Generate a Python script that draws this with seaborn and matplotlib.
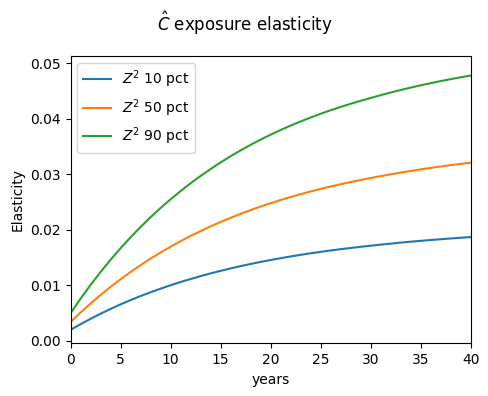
import matplotlib
matplotlib.use("Agg")
import matplotlib.pyplot as plt
import seaborn as sns

# values, one per year
years = list(range(0, 41))

z2_10 = [0.00200, 0.00302, 0.00399, 0.00491, 0.00577, 0.00659, 0.00736, 0.00809, 0.00877, 0.00942,
         0.01004, 0.01062, 0.01116, 0.01168, 0.01217, 0.01263, 0.01307, 0.01348, 0.01387, 0.01424,
         0.01458, 0.01491, 0.01522, 0.01551, 0.01579, 0.01605, 0.01630, 0.01653, 0.01675, 0.01696,
         0.01715, 0.01735, 0.01753, 0.01771, 0.01788, 0.01803, 0.01818, 0.01832, 0.01846, 0.01859,
         0.01871]
z2_50 = [0.00340, 0.00512, 0.00674, 0.00828, 0.00974, 0.01112, 0.01242, 0.01366, 0.01483, 0.01593,
         0.01698, 0.01797, 0.01891, 0.01980, 0.02064, 0.02143, 0.02218, 0.02290, 0.02357, 0.02421,
         0.02481, 0.02539, 0.02593, 0.02644, 0.02693, 0.02738, 0.02782, 0.02823, 0.02862, 0.02899,
         0.02934, 0.02968, 0.03001, 0.03032, 0.03061, 0.03090, 0.03117, 0.03141, 0.03166, 0.03188,
         0.03210]
z2_90 = [0.00500, 0.00761, 0.01008, 0.01241, 0.01462, 0.01670, 0.01867, 0.02053, 0.02228, 0.02395,
         0.02551, 0.02699, 0.02840, 0.02972, 0.03097, 0.03215, 0.03327, 0.03432, 0.03532, 0.03626,
         0.03715, 0.03799, 0.03878, 0.03953, 0.04024, 0.04091, 0.04155, 0.04214, 0.04271, 0.04325,
         0.04375, 0.04426, 0.04474, 0.04519, 0.04562, 0.04604, 0.04642, 0.04679, 0.04714, 0.04748,
         0.04779]

series = [("$Z^2$ 10 pct", z2_10), ("$Z^2$ 50 pct", z2_50), ("$Z^2$ 90 pct", z2_90)]
colors = sns.color_palette("tab10", 3)

plt.rcParams["font.family"] = ["DejaVu Sans"]

fig = plt.figure(figsize=(4.89, 3.96), dpi=100)
ax = fig.add_axes([0.1442, 0.1326, 0.8190, 0.7260])

for (label, vals), c in zip(series, colors):
    sns.lineplot(x=years, y=vals, label=label, color=c, linewidth=1.5, ax=ax)

ax.set_xlim(0, 40)
ax.set_ylim(-0.00045, 0.0513)
ax.set_xticks(range(0, 41, 5))
ax.set_yticks([0.0, 0.01, 0.02, 0.03, 0.04, 0.05])
ax.set_yticklabels(["0.00", "0.01", "0.02", "0.03", "0.04", "0.05"])
ax.set_xlabel("years")
ax.set_ylabel("Elasticity")
ax.legend(loc="upper left")

fig.suptitle(r"$\hat{C}$ exposure elasticity", y=0.975)

fig.savefig("out.png", dpi=100)
